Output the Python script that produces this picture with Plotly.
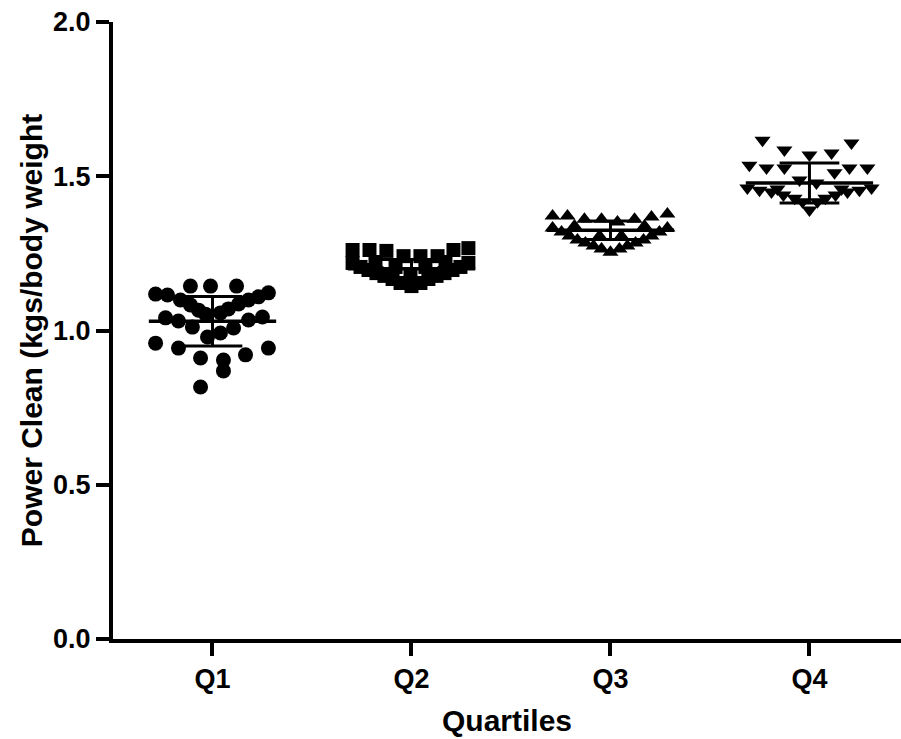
import plotly.graph_objects as go

categories = ["Q1", "Q2", "Q3", "Q4"]

# jitter offsets (category units) and values for each quartile
q1_off = [-0.111, -0.010, 0.121, -0.286, -0.226, -0.161, -0.111, -0.070, -0.035,
          0.281, 0.231, 0.181, 0.131, 0.080, 0.040, -0.236, -0.171, 0.181, 0.251,
          -0.101, 0.106, -0.025, 0.040, -0.286, -0.171, 0.281, 0.166, -0.060, 0.055,
          0.055, -0.060]
q1_val = [1.144, 1.144, 1.144, 1.118, 1.115, 1.099, 1.083, 1.066, 1.053,
          1.122, 1.109, 1.099, 1.086, 1.070, 1.057, 1.041, 1.031, 1.034, 1.044,
          1.011, 1.008, 0.979, 0.992, 0.959, 0.943, 0.943, 0.921, 0.911, 0.904,
          0.869, 0.817]

q2_off = [-0.296, -0.211, -0.126, 0.211, 0.286, -0.040, 0.045, 0.131,
          -0.296, -0.256, -0.216, -0.176, -0.136, -0.095, -0.055,
          0.286, 0.246, 0.206, 0.166, 0.126, 0.085, 0.045, 0.0,
          -0.181, 0.171, -0.080, 0.070, -0.005]
q2_val = [1.261, 1.261, 1.258, 1.261, 1.267, 1.241, 1.241, 1.241,
          1.219, 1.206, 1.196, 1.186, 1.177, 1.167, 1.154,
          1.219, 1.206, 1.196, 1.186, 1.177, 1.167, 1.154, 1.144,
          1.222, 1.222, 1.206, 1.206, 1.183]

q3_off = [-0.291, -0.216, -0.131, -0.045, 0.035, 0.121, 0.206, 0.286,
          -0.291, -0.246, -0.206, -0.166, -0.126, -0.085, -0.045,
          0.286, 0.246, 0.206, 0.166, 0.126, 0.085, 0.045, 0.0,
          -0.181, 0.171, -0.055, 0.055]
q3_val = [1.371, 1.371, 1.361, 1.361, 1.352, 1.361, 1.368, 1.378,
          1.332, 1.319, 1.306, 1.293, 1.284, 1.274, 1.264,
          1.332, 1.319, 1.306, 1.293, 1.284, 1.274, 1.264, 1.254,
          1.339, 1.339, 1.306, 1.306]

q4_off = [-0.236, 0.211, -0.126, 0.111, 0.0, -0.302, -0.216, -0.126, 0.201, 0.291,
          0.126, -0.050, 0.035,
          -0.312, -0.251, -0.191, -0.131, -0.075, -0.035,
          0.312, 0.251, 0.191, 0.131, 0.080, 0.040, 0.0, -0.161, 0.161]
q4_val = [1.617, 1.608, 1.585, 1.575, 1.569, 1.536, 1.527, 1.527, 1.527, 1.527,
          1.511, 1.488, 1.478,
          1.462, 1.455, 1.449, 1.439, 1.429, 1.417,
          1.462, 1.455, 1.449, 1.439, 1.429, 1.417, 1.391, 1.459, 1.459]

means = [1.03, 1.20, 1.325, 1.478]
sds = [0.08, 0.03, 0.03, 0.065]

y_tickvals = [0.0, 0.5, 1.0, 1.5, 2.0]
y_ticktext = ["0.0", "0.5", "1.0", "1.5", "2.0"]

offsets = [q1_off, q2_off, q3_off, q4_off]
values = [q1_val, q2_val, q3_val, q4_val]
symbols = ["circle", "square", "triangle-up", "triangle-down"]
sizes = [15, 14, 14, 14]

FONT = "Liberation Sans, Arial, sans-serif"
fig = go.Figure()

for i, (off, val) in enumerate(zip(offsets, values)):
    fig.add_trace(go.Scatter(
        x=[i + o for o in off], y=val, mode="markers",
        marker=dict(symbol=symbols[i], size=sizes[i], color="black",
                    line=dict(width=0)),
        showlegend=False, hoverinfo="skip"))

MEAN_HW = 0.32
CAP_HW = 0.15
mx, my, ex, ey = [], [], [], []
for i, (m, s) in enumerate(zip(means, sds)):
    mx += [i - MEAN_HW, i + MEAN_HW, None]
    my += [m, m, None]
    ex += [i, i, None, i - CAP_HW, i + CAP_HW, None, i - CAP_HW, i + CAP_HW, None]
    ey += [m - s, m + s, None, m + s, m + s, None, m - s, m - s, None]

fig.add_trace(go.Scatter(x=mx, y=my, mode="lines", line=dict(color="black", width=3.5),
                         showlegend=False, hoverinfo="skip"))
fig.add_trace(go.Scatter(x=ex, y=ey, mode="lines", line=dict(color="black", width=3),
                         showlegend=False, hoverinfo="skip"))

fig.update_layout(
    width=901, height=739,
    margin=dict(l=113, r=0, t=22, b=100),
    paper_bgcolor="white", plot_bgcolor="white",
    font=dict(family=FONT, color="black"),
    xaxis=dict(
        range=[-0.5, 3.46], tickmode="array", tickvals=[0, 1, 2, 3], ticktext=categories,
        showline=True, linewidth=4, linecolor="black", showgrid=False, zeroline=False,
        ticks="outside", ticklen=13, tickwidth=4, tickcolor="black",
        tickfont=dict(family=FONT, size=27, weight="bold"),
        title=dict(text="Quartiles", font=dict(family=FONT, size=30, weight="bold"),
                   standoff=18),
    ),
    yaxis=dict(
        range=[0, 2], tickmode="array", tickvals=y_tickvals, ticktext=y_ticktext,
        showline=True, linewidth=4, linecolor="black", showgrid=False, zeroline=False,
        ticks="outside", ticklen=13, tickwidth=4, tickcolor="black",
        tickfont=dict(family=FONT, size=27, weight="bold"),
        title=dict(text="Power Clean (kgs/body weight",
                   font=dict(family=FONT, size=30, weight="bold"), standoff=3),
    ),
)

fig.write_html(
    "out.html",
    config={"displayModeBar": False},
    post_script="document.body.style.margin='0';document.body.style.overflow='hidden';",
)
